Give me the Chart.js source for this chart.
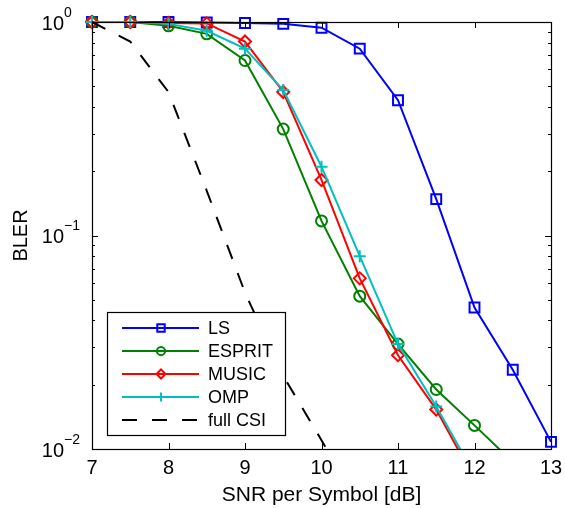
<!DOCTYPE html>
<html>
<head>
<meta charset="utf-8">
<script src="https://cdn.jsdelivr.net/npm/chart.js@4.4.1/dist/chart.umd.min.js"></script>
<style>
html, body { margin: 0; padding: 0; background: #fff; }
</style>
</head>
<body>
<canvas id="chart" width="565" height="508"></canvas>
<script>
// values (BLER vs SNR per symbol)
const snrLS = [7, 7.5, 8, 8.5, 9, 9.5, 10, 10.5, 11, 11.5, 12, 12.5, 13];
const blerLS = [1, 1, 1, 0.995, 0.99, 0.98, 0.94, 0.75, 0.43, 0.148, 0.046, 0.0235, 0.0108];

const snrEsprit = [7, 7.5, 8, 8.5, 9, 9.5, 10, 10.5, 11, 11.5, 12, 12.5];
const blerEsprit = [1, 1, 0.96, 0.88, 0.66, 0.315, 0.117, 0.052, 0.031, 0.019, 0.0129, 0.0087];

const snrMusic = [7, 7.5, 8, 8.5, 9, 9.5, 10, 10.5, 11, 11.5, 12];
const blerMusic = [1, 1, 0.99, 0.985, 0.81, 0.47, 0.182, 0.063, 0.0275, 0.0153, 0.0072];

const snrOmp = [7, 7.5, 8, 8.5, 9, 9.5, 10, 10.5, 11, 11.5, 12];
const blerOmp = [1, 1, 0.98, 0.91, 0.75, 0.48, 0.21, 0.08, 0.031, 0.0158, 0.0076];

const snrCsi = [7, 7.5, 8, 8.5, 9, 9.5, 10, 10.5];
const blerCsi = [1, 0.81, 0.47, 0.162, 0.054, 0.022, 0.011, 0.0053];

const xTickValues = [7, 8, 9, 10, 11, 12, 13];
const yTickValues = [1, 0.1, 0.01];
const yTickExponents = ['0', '\u22121', '\u22122'];

const FONT = '"Liberation Sans", Arial, sans-serif';

function pts(xs, ys) {
    return xs.map((x, i) => ({ x: x, y: ys[i] }));
}

function series(label, xs, ys, color, style, radius, order, dash) {
    return {
        label: label,
        data: pts(xs, ys),
        borderColor: color,
        borderWidth: 2,
        borderDash: dash || [],
        pointStyle: style,
        pointRadius: radius,
        pointBorderColor: color,
        pointBackgroundColor: 'rgba(0,0,0,0)',
        pointBorderWidth: 2,
        showLine: true,
        tension: 0,
        order: order,
        clip: { left: 12, top: 12, right: 12, bottom: 0 }
    };
}

// axes box, inward ticks, tick labels, axis titles
const axesPlugin = {
    id: 'matlabAxes',
    afterDraw(chart) {
        const ctx = chart.ctx;
        const a = chart.chartArea;
        const xs = chart.scales.x, ys = chart.scales.y;
        ctx.save();
        ctx.strokeStyle = '#000';
        ctx.lineWidth = 1.2;
        ctx.strokeRect(a.left + 0.5, a.top + 0.5, a.right - a.left, a.bottom - a.top);

        ctx.lineWidth = 1;
        ctx.beginPath();
        xTickValues.forEach(v => {
            const px = Math.round(xs.getPixelForValue(v)) + 0.5;
            ctx.moveTo(px, a.bottom); ctx.lineTo(px, a.bottom - 6);
            ctx.moveTo(px, a.top); ctx.lineTo(px, a.top + 6);
        });
        yTickValues.forEach(v => {
            const py = Math.round(ys.getPixelForValue(v)) + 0.5;
            ctx.moveTo(a.left, py); ctx.lineTo(a.left + 6, py);
            ctx.moveTo(a.right, py); ctx.lineTo(a.right - 6, py);
        });
        [0.01, 0.1].forEach(d => {
            for (let k = 2; k <= 9; k++) {
                const py = Math.round(ys.getPixelForValue(d * k)) + 0.5;
                ctx.moveTo(a.left, py); ctx.lineTo(a.left + 3, py);
                ctx.moveTo(a.right, py); ctx.lineTo(a.right - 3, py);
            }
        });
        ctx.stroke();

        ctx.fillStyle = '#000';
        ctx.font = '20px ' + FONT;
        ctx.textAlign = 'center';
        ctx.textBaseline = 'middle';
        xTickValues.forEach(v => {
            ctx.fillText(String(v), xs.getPixelForValue(v), a.bottom + 19);
        });

        yTickValues.forEach((v, i) => {
            const py = ys.getPixelForValue(v);
            ctx.font = '20px ' + FONT;
            ctx.textAlign = 'right';
            ctx.textBaseline = 'middle';
            ctx.fillText('10', 64, py + 2);
            ctx.font = '14px ' + FONT;
            ctx.textAlign = 'left';
            ctx.fillText(yTickExponents[i], 64, py - 9);
        });

        ctx.font = '21px ' + FONT;
        ctx.textAlign = 'center';
        ctx.textBaseline = 'middle';
        ctx.fillText('SNR per Symbol [dB]', (a.left + a.right) / 2, 495);

        ctx.font = '20px ' + FONT;
        ctx.translate(21, (a.top + a.bottom) / 2);
        ctx.rotate(-Math.PI / 2);
        ctx.fillText('BLER', 0, 0);
        ctx.restore();
    }
};

// boxed legend in the lower left, drawn over the data
const legendPlugin = {
    id: 'boxLegend',
    afterDatasetsDraw(chart) {
        const ctx = chart.ctx;
        const box = { x: 107, y: 312, w: 178, h: 123 };
        ctx.save();
        ctx.fillStyle = '#fff';
        ctx.fillRect(box.x, box.y, box.w, box.h);
        ctx.strokeStyle = '#000';
        ctx.lineWidth = 1.2;
        ctx.strokeRect(box.x + 0.5, box.y + 0.5, box.w, box.h);

        chart.data.datasets.forEach((ds, i) => {
            const y = box.y + 16 + i * 23;
            ctx.strokeStyle = ds.borderColor;
            ctx.lineWidth = ds.borderWidth;
            ctx.setLineDash(ds.borderDash);
            ctx.beginPath();
            ctx.moveTo(122, y); ctx.lineTo(199, y);
            ctx.stroke();
            ctx.setLineDash([]);
            if (ds.pointRadius > 0) {
                ctx.fillStyle = 'rgba(0,0,0,0)';
                ctx.strokeStyle = ds.pointBorderColor;
                ctx.lineWidth = ds.pointBorderWidth;
                Chart.helpers.drawPoint(ctx, {
                    pointStyle: ds.pointStyle,
                    radius: ds.pointRadius * 0.75,
                    rotation: 0,
                    borderWidth: ds.pointBorderWidth
                }, 161, y);
            }
            ctx.fillStyle = '#000';
            ctx.font = '18px ' + FONT;
            ctx.textAlign = 'left';
            ctx.textBaseline = 'middle';
            ctx.fillText(ds.label, 208, y + 1);
        });
        ctx.restore();
    }
};

new Chart(document.getElementById('chart'), {
    type: 'line',
    data: {
        datasets: [
            series('LS', snrLS, blerLS, '#0000ff', 'rect', 7, 5),
            series('ESPRIT', snrEsprit, blerEsprit, '#008000', 'circle', 5.5, 4),
            series('MUSIC', snrMusic, blerMusic, '#ff0000', 'rectRot', 6, 3),
            series('OMP', snrOmp, blerOmp, '#00bfbf', 'cross', 6, 2),
            series('full CSI', snrCsi, blerCsi, '#000000', 'circle', 0, 1, [15, 15])
        ]
    },
    options: {
        responsive: false,
        animation: false,
        layout: { padding: { left: 0, right: 14, top: 22, bottom: 0 } },
        plugins: { legend: { display: false }, tooltip: { enabled: false } },
        scales: {
            x: {
                type: 'linear', min: 7, max: 13,
                grid: { display: false }, border: { display: false },
                ticks: { display: false },
                afterFit: s => { s.height = 59; }
            },
            y: {
                type: 'logarithmic', min: 0.01, max: 1,
                grid: { display: false }, border: { display: false },
                ticks: { display: false },
                afterFit: s => { s.width = 92; }
            }
        }
    },
    plugins: [axesPlugin, legendPlugin]
});
</script>
</body>
</html>
